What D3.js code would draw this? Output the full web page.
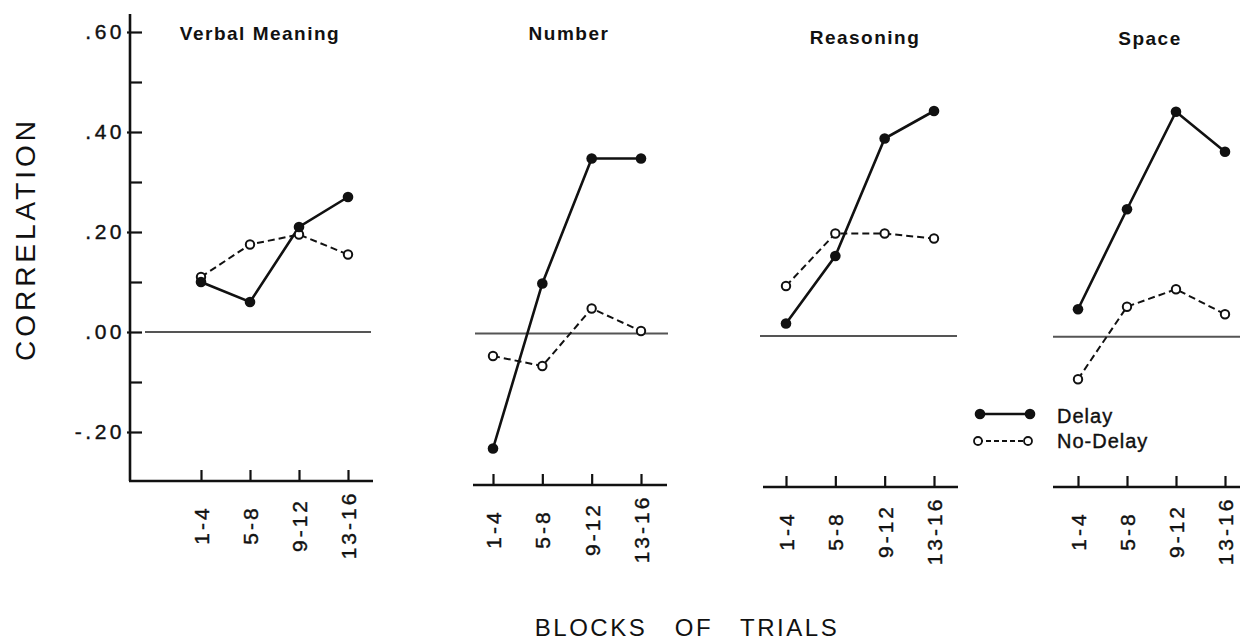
<!DOCTYPE html>
<html><head><meta charset="utf-8">
<script src="https://cdn.jsdelivr.net/npm/d3@7"></script>
<style>
html,body{margin:0;padding:0;background:#fff;}
svg{display:block;}
text{font-family:"Liberation Sans",Arial,sans-serif;fill:#111;}
</style></head><body>
<svg id="chart" width="1240" height="644"></svg>
<script>
// ---- data ----
const categories = ["1-4", "5-8", "9-12", "13-16"];
const panels = ["Verbal Meaning", "Number", "Reasoning", "Space"];
const seriesNames = ["Delay", "No-Delay"];
const delayVerbal    = [0.10, 0.06, 0.21, 0.27];
const noDelayVerbal  = [0.11, 0.175, 0.195, 0.155];
const delayNumber    = [-0.23, 0.10, 0.35, 0.35];
const noDelayNumber  = [-0.045, -0.065, 0.05, 0.005];
const delayReason    = [0.025, 0.16, 0.395, 0.45];
const noDelayReason  = [0.10, 0.205, 0.205, 0.195];
const delaySpace     = [0.055, 0.255, 0.45, 0.37];
const noDelaySpace   = [-0.085, 0.06, 0.095, 0.045];
const yTicks = [-0.2, -0.1, 0, 0.1, 0.2, 0.3, 0.4, 0.5, 0.6];
const yMajorTicks = [-0.2, 0, 0.2, 0.4, 0.6];
const yMajorLabels = ["-.20", ".00", ".20", ".40", ".60"];
const yTitle = "CORRELATION";
const xTitle = "BLOCKS   OF   TRIALS";

const delaySeries = [delayVerbal, delayNumber, delayReason, delaySpace];
const noDelaySeries = [noDelayVerbal, noDelayNumber, noDelayReason, noDelaySpace];

// ---- layout (positions only) ----
const layout = [
  {xr:[201,348],  axis:[129,373],  zero:[145,371],  axisY:481, dy:0,   tx:260,  ty:40},
  {xr:[493,641],  axis:[473,667],  zero:[475,668],  axisY:485, dy:1.5, tx:569,  ty:40},
  {xr:[786,934],  axis:[763,958],  zero:[760,957],  axisY:487, dy:4,   tx:865,  ty:44},
  {xr:[1078,1225],axis:[1053,1240],zero:[1053,1240],axisY:487, dy:4.7, tx:1150, ty:45}
];
const yAxisX = 130;

const svg = d3.select("#chart");
const y = d3.scaleLinear().domain([-0.2, 0.6]).range([432, 32]);

// y axis
const yAxis = d3.axisLeft(y).tickValues(yTicks).tickSizeInner(-12).tickSizeOuter(0).tickPadding(6)
  .tickFormat(d => { const i = yMajorTicks.findIndex(v => Math.abs(v - d) < 1e-9); return i >= 0 ? yMajorLabels[i] : ""; });
const gy = svg.append("g").attr("transform", `translate(${yAxisX},0)`).call(yAxis);
gy.select(".domain").remove();
gy.selectAll(".tick line").attr("stroke", "#111").attr("stroke-width", 2.2).attr("x1", d => yMajorTicks.some(v => Math.abs(v - d) < 1e-9) ? -3 : 0);
gy.selectAll(".tick text").attr("font-size", 21).attr("letter-spacing", "3.5px").attr("fill", "#111")
  .attr("stroke", "#111").attr("stroke-width", 0.4)
  .attr("font-family", '"Liberation Sans", Arial, sans-serif').attr("x", -5);
svg.append("line").attr("x1", yAxisX).attr("x2", yAxisX).attr("y1", 14).attr("y2", layout[0].axisY)
  .attr("stroke", "#111").attr("stroke-width", 2.6);

// y title
svg.append("text").attr("transform", `translate(35,239) rotate(-90)`).attr("text-anchor", "middle")
  .attr("font-size", 28).attr("letter-spacing", "4px").text(yTitle);

const line = d3.line();

panels.forEach((name, p) => {
  const L = layout[p];
  const x = d3.scalePoint().domain(categories).range(L.xr);
  const g = svg.append("g").attr("transform", `translate(0,${L.dy})`);

  // zero line
  g.append("line").attr("x1", L.zero[0]).attr("x2", L.zero[1]).attr("y1", y(0)).attr("y2", y(0))
    .attr("stroke", "#555").attr("stroke-width", 2);

  // x axis
  const ax = svg.append("g").attr("transform", `translate(0,${L.axisY})`)
    .call(d3.axisBottom(x).tickSizeInner(-11).tickSizeOuter(0));
  ax.select(".domain").remove();
  ax.selectAll(".tick line").attr("stroke", "#111").attr("stroke-width", 2.2);
  ax.selectAll(".tick text").attr("y", null).attr("dy", "0.35em").attr("x", 0)
    .attr("transform", "translate(0,44) rotate(-90)").attr("text-anchor", "middle")
    .attr("font-size", 21).attr("letter-spacing", "3px").attr("fill", "#111")
    .attr("stroke", "#111").attr("stroke-width", 0.4)
    .attr("font-family", '"Liberation Sans", Arial, sans-serif');
  svg.append("line").attr("x1", L.axis[0]).attr("x2", L.axis[1]).attr("y1", L.axisY).attr("y2", L.axisY)
    .attr("stroke", "#111").attr("stroke-width", 2.6);

  // title
  svg.append("text").attr("x", L.tx).attr("y", L.ty).attr("text-anchor", "middle")
    .attr("font-size", 19).attr("font-weight", "bold").attr("letter-spacing", "1.5px").text(name);

  const dPts = delaySeries[p].map((v, i) => [x(categories[i]), y(v)]);
  const nPts = noDelaySeries[p].map((v, i) => [x(categories[i]), y(v)]);

  g.append("path").attr("d", line(nPts)).attr("fill", "none").attr("stroke", "#111")
    .attr("stroke-width", 2).attr("stroke-dasharray", "7,4");
  g.append("path").attr("d", line(dPts)).attr("fill", "none").attr("stroke", "#111")
    .attr("stroke-width", 2.6);
  g.selectAll(".nd").data(nPts).join("circle").attr("cx", d => d[0]).attr("cy", d => d[1])
    .attr("r", 4.2).attr("fill", "#fff").attr("stroke", "#111").attr("stroke-width", 2);
  g.selectAll(".dl").data(dPts).join("circle").attr("cx", d => d[0]).attr("cy", d => d[1])
    .attr("r", 5.3).attr("fill", "#111");
});

// legend
const leg = svg.append("g");
leg.append("line").attr("x1", 980).attr("x2", 1030).attr("y1", 414).attr("y2", 414)
  .attr("stroke", "#111").attr("stroke-width", 2.4);
[980, 1030].forEach(cx => leg.append("circle").attr("cx", cx).attr("cy", 414).attr("r", 5.3).attr("fill", "#111"));
leg.append("line").attr("x1", 978).attr("x2", 1028).attr("y1", 441).attr("y2", 441)
  .attr("stroke", "#111").attr("stroke-width", 1.8).attr("stroke-dasharray", "5,3");
[978, 1028].forEach(cx => leg.append("circle").attr("cx", cx).attr("cy", 441).attr("r", 4).attr("fill", "#fff")
  .attr("stroke", "#111").attr("stroke-width", 1.8));
leg.append("text").attr("x", 1057).attr("y", 423).attr("font-size", 20).attr("letter-spacing", "1px")
  .attr("stroke", "#111").attr("stroke-width", 0.4).text(seriesNames[0]);
leg.append("text").attr("x", 1057).attr("y", 448).attr("font-size", 20).attr("letter-spacing", "1px")
  .attr("stroke", "#111").attr("stroke-width", 0.4).text(seriesNames[1]);

// x title
svg.append("text").attr("x", 687).attr("y", 636).attr("text-anchor", "middle")
  .attr("font-size", 24).attr("letter-spacing", "2.5px").style("white-space", "pre").text(xTitle);
</script>
</body></html>
